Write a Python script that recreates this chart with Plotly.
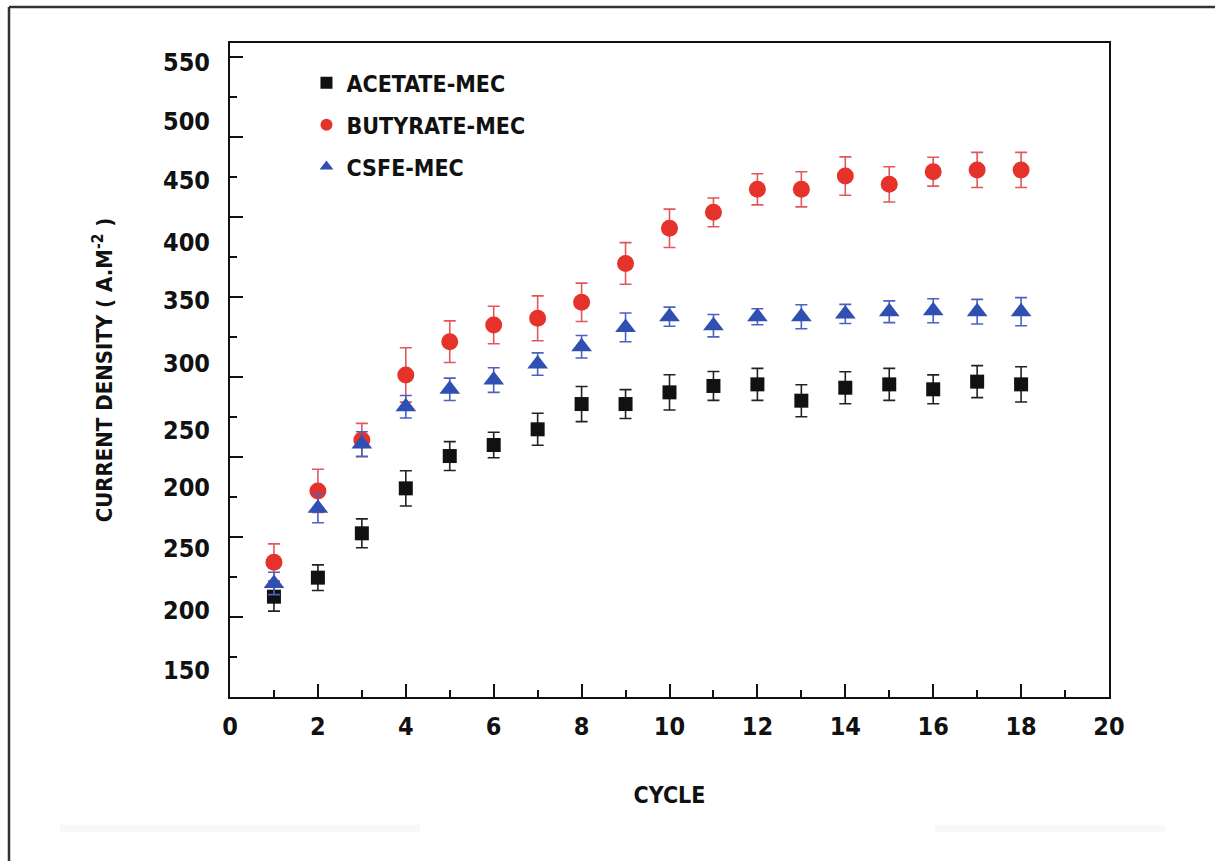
import plotly.graph_objects as go

# Cycle number
cycles = list(range(1, 19))

# Current density (A.m-2) and standard deviation per cycle
acetate = [212.7, 224.6, 252.3, 280.4, 300.6, 307.5, 317.3, 333.1, 333.1,
           340.4, 344.4, 345.4, 335.2, 343.3, 345.4, 342.3, 347.1, 345.4]
acetate_err = [9, 8, 9, 11, 9, 8, 10, 11, 9, 11, 9, 10, 10, 10, 10, 9, 10, 11]

butyrate = [234.2, 278.8, 310.6, 351.3, 372.1, 382.5, 386.7, 396.7, 421.0,
            442.9, 452.9, 467.3, 467.3, 475.6, 470.4, 478.3, 479.4, 479.4]
butyrate_err = [11.5, 13.5, 10.4, 17, 13, 11.7, 14, 12, 13, 12, 9, 9.7, 11, 12, 11, 9, 11, 11]

csfe = [221.0, 267.9, 308.1, 331.4, 342.3, 348.1, 358.1, 368.9, 381.0,
        387.7, 382.1, 387.7, 387.7, 389.4, 390.8, 391.4, 390.8, 390.8]
csfe_err = [7, 9, 7.7, 7, 7, 7.7, 7, 7, 9, 6, 7, 5, 7.5, 6, 6.8, 7.5, 7.7, 8.8]

# Y-axis tick label texts and where they sit
ytick_text = ["550", "500", "450", "400", "350", "300", "250", "200", "250", "200", "150"]
ytick_pos = [546.9, 510.0, 473.1, 434.4, 398.1, 358.8, 316.9, 281.3, 243.1, 204.4, 166.9]

# Tick marks on the y axis: long and short
y_major = [150, 200, 250, 300, 350, 400, 450, 500, 550]
y_minor = [175, 225, 275, 325, 375, 425, 475, 525]

x_major = list(range(0, 21, 2))

FONT = "DejaVu Sans Condensed, DejaVu Sans, sans-serif"
Y_RANGE = [150, 558.75]

fig = go.Figure()

series = [
    ("ACETATE-MEC", acetate, acetate_err, "square", 14, "#111111", "#222222"),
    ("BUTYRATE-MEC", butyrate, butyrate_err, "circle", 17, "#e5322b", "#e2585a"),
    ("CSFE-MEC", csfe, csfe_err, "triangle-up", 18, "#2f4fb2", "#4a62c4"),
]
for i, (name, vals, errs, sym, size, col, ecol) in enumerate(series):
    fig.add_trace(go.Scatter(
        x=cycles, y=vals, mode="markers", name=name, legendgroup=f"g{i}",
        marker=dict(symbol=sym, size=size, color=col, line=dict(width=0)),
        error_y=dict(type="data", array=errs, visible=True,
                     color=ecol, thickness=1.6, width=6),
    ))

axis_line = dict(showline=True, linecolor="#111111", linewidth=2, mirror=True,
                 showgrid=False, zeroline=False)

fig.update_layout(
    width=1215, height=861,
    margin=dict(l=230, r=106, t=43, b=164),
    paper_bgcolor="white", plot_bgcolor="white",
    font=dict(family=FONT, color="#111111"),
    xaxis=dict(
        range=[0, 20], tickmode="array", tickvals=x_major,
        ticks="inside", ticklen=13, tickwidth=2, tickcolor="#111111",
        minor=dict(dtick=1, tick0=0, ticks="inside", ticklen=7, tickwidth=2,
                   tickcolor="#111111"),
        tickfont=dict(size=25, family=FONT, weight="bold"),
        ticklabelstandoff=6,
        title=dict(text="CYCLE", font=dict(size=23, family=FONT, weight="bold"),
                   standoff=47),
        **axis_line,
    ),
    yaxis=dict(
        range=Y_RANGE, tickmode="array", tickvals=ytick_pos, ticktext=ytick_text,
        ticks="", tickfont=dict(size=25, family=FONT, weight="bold"),
        ticklabelstandoff=13,
        title=dict(text="CURRENT DENSITY ( A.M<sup>-2</sup> )",
                   font=dict(size=22, family=FONT, weight="bold"), standoff=44),
        **axis_line,
    ),
    yaxis2=dict(
        overlaying="y", side="left", range=Y_RANGE, showline=False,
        showgrid=False, zeroline=False, showticklabels=False,
        tickmode="array", tickvals=y_major,
        ticks="inside", ticklen=13, tickwidth=2, tickcolor="#111111",
        minor=dict(tickmode="array", tickvals=y_minor, ticks="inside",
                   ticklen=7, tickwidth=2, tickcolor="#111111"),
    ),
    legend=dict(
        x=0.087, y=0.972, xanchor="left", yanchor="top",
        font=dict(size=23, family=FONT, weight="bold"),
        bgcolor="rgba(0,0,0,0)", tracegroupgap=9, itemsizing="constant",
    ),
    showlegend=True,
)

# Invisible helper so the overlaid tick axis is rendered
fig.add_trace(go.Scatter(x=[None], y=[None], yaxis="y2", showlegend=False,
                         hoverinfo="skip"))

# Outer frame (top and left edges)
frame = dict(color="#333333", width=2.5)
fig.add_shape(type="line", xref="paper", yref="paper",
              x0=(9 - 230) / 879, x1=(1215 - 230) / 879,
              y0=(697 - 7) / 654, y1=(697 - 7) / 654, line=frame)
fig.add_shape(type="line", xref="paper", yref="paper",
              x0=(9 - 230) / 879, x1=(9 - 230) / 879,
              y0=(697 - 7) / 654, y1=(697 - 861) / 654, line=frame)

# Faint strips near the bottom edge
for xa, xb in [(60, 420), (935, 1165)]:
    fig.add_shape(type="rect", xref="paper", yref="paper", layer="below",
                  x0=(xa - 230) / 879, x1=(xb - 230) / 879,
                  y0=(697 - 832) / 654, y1=(697 - 825) / 654,
                  fillcolor="#f8f8f8", line=dict(width=0))

fig.write_html("out.html")
